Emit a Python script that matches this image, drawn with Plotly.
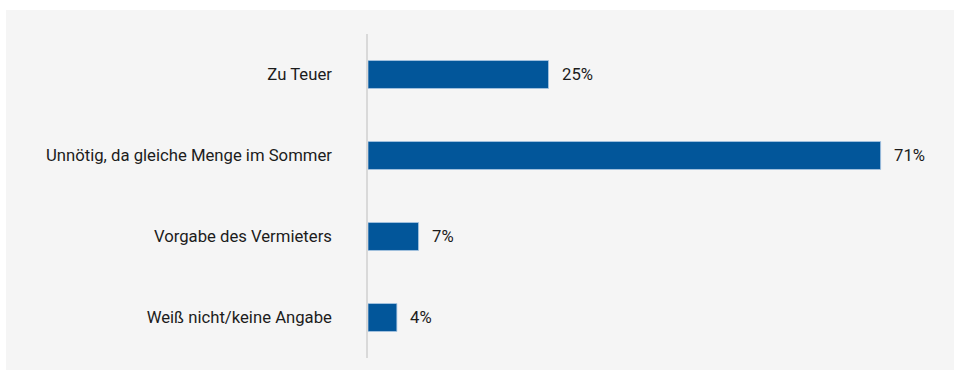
import plotly.graph_objects as go

# Survey answers and their shares in percent
categories = [
    "Zu Teuer",
    "Unnötig, da gleiche Menge im Sommer",
    "Vorgabe des Vermieters",
    "Weiß nicht/keine Angabe",
]
shares = [25, 71, 7, 4]
value_labels = [f"{v}%" for v in shares]

W, H = 960, 376
BAR_COLOR = "#02569a"
PANEL_COLOR = "#f5f5f5"
TEXT_COLOR = "#1c1c1c"
FONT_SIZE = 16.7

fig = go.Figure(
    go.Bar(
        x=shares,
        y=categories,
        orientation="h",
        marker=dict(color=BAR_COLOR, line=dict(color="#a9c6e2", width=0.8)),
        hoverinfo="skip",
    )
)

# Percent labels to the right of each bar
for cat, v, lab in zip(categories, shares, value_labels):
    fig.add_annotation(
        x=v, y=cat, text=lab, showarrow=False,
        xanchor="left", yanchor="middle", xshift=11,
        font=dict(family="Roboto", size=FONT_SIZE, color=TEXT_COLOR),
    )

ml, mr, mt, mb = 368, 14, 34, 18
pw, ph = W - ml - mr, H - mt - mb

# Light grey panel behind the chart (paper coordinates derived from pixels)
def px_x(p):
    return (p - ml) / pw

def px_y(p):
    return (H - mb - p) / ph

fig.add_shape(
    type="rect", xref="paper", yref="paper",
    x0=px_x(6), x1=px_x(954), y0=px_y(370), y1=px_y(10),
    fillcolor=PANEL_COLOR, line=dict(width=0), layer="below",
)

fig.update_layout(
    width=W, height=H,
    margin=dict(l=ml, r=mr, t=mt, b=mb, pad=0),
    paper_bgcolor="white",
    plot_bgcolor="rgba(0,0,0,0)",
    bargap=0.655,
    showlegend=False,
    font=dict(family="Roboto", size=FONT_SIZE, color=TEXT_COLOR),
    xaxis=dict(
        range=[0, pw / 7.22], visible=False, fixedrange=True,
    ),
    yaxis=dict(
        autorange="reversed",
        showline=True, linecolor="#d9d9d9", linewidth=1.5,
        showgrid=False, zeroline=False,
        ticks="", ticklabelstandoff=31,
        tickfont=dict(family="Roboto", size=FONT_SIZE, color=TEXT_COLOR),
        fixedrange=True,
    ),
)

fig.write_html("out.html", config={"displayModeBar": False})
